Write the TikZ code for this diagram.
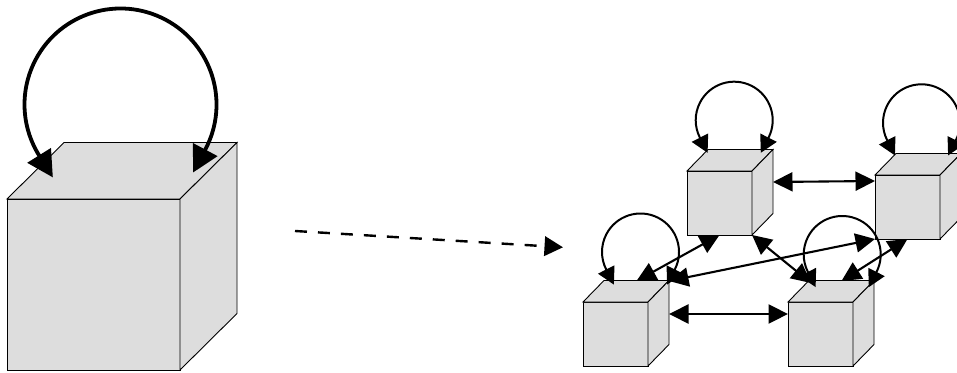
\documentclass[tikz,border=0pt]{standalone}
\usetikzlibrary{arrows.meta,calc}
\definecolor{facegray}{RGB}{221,221,221}
\tikzset{
  cubeedge/.style={draw=black, line width=0.9pt, fill=facegray, line join=miter},
  frontface/.style={cubeedge, rectangle, inner sep=0pt, outer sep=0pt, anchor=south west},
  conn/.style={line width=2.1pt, {Triangle[length=19.5pt,width=19pt]}-{Triangle[length=19.5pt,width=19pt]}},
  loopsmall/.style={line width=2pt, {Triangle[length=17pt,width=18pt]}-{Triangle[length=17pt,width=18pt]}},
  loopbig/.style={line width=3.8pt, {Triangle[length=26pt,width=27pt]}-{Triangle[length=26pt,width=27pt]}},
  dasharrow/.style={line width=2.4pt, dash pattern=on 12pt off 11pt, -{Triangle[length=18.5pt,width=19.5pt]}},
}
% name, x, y (south west of front face), width, height, depth x, depth y
\newcommand\mycube[7]{%
  \node[frontface, minimum width=#4pt, minimum height=#5pt] (#1) at (#2,#3) {};
  \draw[cubeedge] (#1.north west) -- ++(#6,#7) -- ++(#4,0) -- (#1.north east) -- cycle;
  \draw[cubeedge] (#1.north east) -- ++(#6,#7) -- ++(0,-#5) -- (#1.south east) -- cycle;
}
\begin{document}
\begin{tikzpicture}[x=1pt,y=1pt]
\useasboundingbox (0,0) rectangle (957,372);

% big cube
\mycube{big}{7}{2}{173}{171}{57}{56.5}
\coordinate (bigc) at (120.5,267.5);
\draw[loopbig] ($(bigc)+(-28:96)+(242:26)$) -- ++(62:26)
  arc[start angle=-28, end angle=212, radius=96] -- ++(302:26);

% dashed transition arrow
\coordinate (ds) at (295,141);
\coordinate (de) at (563,124.7);
\draw[dasharrow] (ds) -- (de);

% small cubes
\mycube{A}{687}{137}{65}{64}{21}{21.5}
\mycube{B}{875}{133}{65}{64}{21}{21.5}
\mycube{C}{583}{6}{65}{64}{21}{21.5}
\mycube{D}{788}{6}{65}{64}{21}{21.5}

% self loops on small cubes
\coordinate (Ac) at (734.2,251.8);
\coordinate (Bc) at (921.5,249.2);
\coordinate (Cc) at (640.5,120);
\coordinate (Dc) at (842.2,117.5);
\foreach \c in {Ac,Bc,Cc,Dc}{
  \draw[loopsmall] ($(\c)+(-27:38.5)+(243:17)$) -- ++(63:17)
    arc[start angle=-27, end angle=207, radius=38.5] -- ++(297:17);
}

% connectors between small cubes
\draw[conn] ($(A.north east)+(21,-11)$) -- ($(B.north west)+(0,-6)$);
\draw[conn] ($(C.north east)+(21,-12)$) -- ($(D.north west)+(0,-12)$);
\draw[conn] (A.south) -- ($(C.north)+(21,21)$);
\draw[conn] (A.south east) -- ($(D.north west)+(23,19)$);
\draw[conn] ($(C.north east)+(21,21)$) -- (B.south west);
\draw[conn] ($(D.north)+(21,21)$) -- (B.south);
\end{tikzpicture}
\end{document}
